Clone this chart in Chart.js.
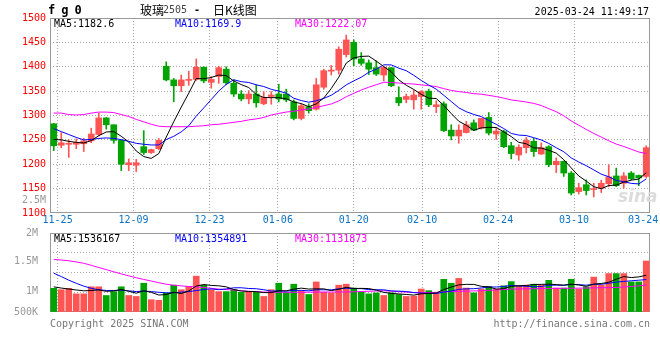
<!DOCTYPE html>
<html>
<head>
<meta charset="utf-8">
<script src="https://cdn.jsdelivr.net/npm/chart.js@4.4.1/dist/chart.umd.min.js"></script>
<style>
body { margin: 0; background: #fff; width: 660px; height: 360px; overflow: hidden; position: relative;
       font-family: 'DejaVu Sans Mono', monospace; font-size: 10px; }
canvas { position: absolute; left: 0; }
#pc { top: 0; }
#vc { top: 220px; }
.t { position: absolute; white-space: pre; line-height: 12px; }
</style>
</head>
<body>
<canvas id="pc" width="660" height="226"></canvas>
<canvas id="vc" width="660" height="110"></canvas>

<div class="t" style="left:48px;top:3px;font-weight:bold;font-size:12px;letter-spacing:-0.6px;line-height:14px">f g 0</div>
<div class="t" style="left:140px;top:3px;font-family:'Noto Sans CJK SC';font-size:12px;line-height:14px">玻璃</div>
<div class="t" style="left:163px;top:4px;color:#444">2505</div>
<div class="t" style="left:194px;top:4px;font-weight:bold">-</div>
<div class="t" style="left:213px;top:3px;font-family:'Noto Sans CJK SC';font-size:12px;line-height:14px">日K线图</div>
<div class="t" style="right:11px;top:6px">2025-03-24 11:49:17</div>

<div class="t" style="left:54px;top:18px;color:#000">MA5:1182.6</div>
<div class="t" style="left:175px;top:18px;color:#00f">MA10:1169.9</div>
<div class="t" style="left:295px;top:18px;color:#f0f">MA30:1222.07</div>

<div class="t" style="left:54px;top:233px;color:#000">MA5:1536167</div>
<div class="t" style="left:175px;top:233px;color:#00f">MA10:1354891</div>
<div class="t" style="left:295px;top:233px;color:#f0f">MA30:1131873</div>

<div class="t" style="left:618px;top:186px;font-family:'DejaVu Sans';font-style:italic;font-weight:bold;font-size:17px;line-height:20px;color:#dcdcdc">sina</div>

<div class="t" style="left:50px;top:318px;color:#777">Copyright 2025 SINA.COM</div>
<div class="t" style="right:10px;top:318px;color:#777">http://finance.sina.com.cn</div>

<script>
// 玻璃2505 daily candles, 11-25 .. 03-24
const OPEN = [1283,1239,1241,1241,1242,1248,1261,1295,1281,1249, 1199,1198,1236,1224,1232,1401,1373,1361,1372,1374,
              1399,1368,1380,1395,1366,1344,1334,1344,1324,1339, 1344,1344,1328,1294,1318,1313,1358,1391,1393,1425,
              1450,1416,1408,1398,1383,1398,1337,1333,1332,1339, 1350,1318,1324,1270,1258,1265,1285,1274,1296,1262,
              1267,1238,1219,1234,1247,1221,1236,1199,1206,1182, 1144,1158,1148,1151,1160,1176,1161,1182,1177,1175];
const CLOSE = [1238,1244,1243,1245,1248,1262,1295,1281,1249,1200, 1203,1203,1224,1230,1249,1373,1361,1373,1373,1399,
               1371,1374,1398,1367,1344,1334,1344,1326,1337,1342, 1334,1332,1294,1320,1310,1363,1392,1392,1436,1455,
               1416,1407,1395,1385,1399,1361,1326,1339,1342,1349, 1322,1322,1269,1258,1270,1281,1270,1294,1264,1268,
               1236,1222,1235,1249,1226,1234,1199,1206,1182,1141, 1152,1146,1149,1161,1174,1156,1176,1170,1172,1234];
const HIGH = [1284,1265,1250,1252,1253,1274,1305,1296,1281,1250, 1211,1210,1269,1231,1253,1410,1376,1383,1391,1416,
              1400,1380,1401,1400,1373,1351,1351,1363,1349,1349, 1364,1354,1332,1324,1324,1376,1395,1403,1441,1465,
              1455,1429,1414,1412,1400,1398,1359,1344,1352,1351, 1354,1330,1328,1281,1281,1288,1291,1294,1306,1275,
              1270,1245,1240,1255,1253,1244,1238,1213,1207,1185, 1161,1168,1161,1167,1199,1192,1183,1185,1178,1238];
const LOW = [1228,1234,1214,1232,1226,1244,1258,1272,1243,1187, 1187,1185,1220,1222,1230,1371,1328,1349,1362,1372,
             1367,1356,1366,1363,1339,1330,1324,1317,1322,1323, 1328,1328,1291,1291,1305,1311,1354,1383,1385,1420,
             1402,1403,1384,1382,1371,1359,1320,1326,1313,1313, 1318,1306,1267,1250,1243,1264,1269,1272,1260,1251,
             1234,1211,1208,1223,1216,1220,1195,1183,1175,1137, 1139,1137,1133,1142,1154,1154,1151,1168,1156,1172];

const MA5 = [1251,1250,1247,1245,1243.6,1248.4,1258.6,1266.2,1267,1257.4, 1245.6,1227.2,1215.8,1212,1221.8,1255.8,1287.4,1317.2,1345.8,1375.8,
             1375.4,1378,1383,1381.8,1370.8,1363.4,1357.4,1343,1337,1336.6, 1336.6,1334.2,1327.8,1324.4,1318,1323.8,1335.8,1355.4,1378.6,1407.6,
             1418.2,1421.2,1421.8,1411.6,1400.4,1389.4,1373.2,1362,1353.4,1343.4, 1335.6,1334.8,1320.8,1304,1288.2,1280,1269.6,1274.6,1275.8,1275.4,
             1266.4,1256.8,1245,1242,1233.6,1233.2,1228.6,1222.8,1209.4,1192.4, 1176,1165.4,1154,1149.8,1156.4,1157.2,1163.2,1167.4,1169.6,1182.6];
const MA10 = [1273,1267,1261,1255,1250,1251,1253,1254,1253,1250.5, 1247,1242.9,1241,1239.5,1239.6,1250.7,1257.3,1266.5,1278.9,1298.8,
              1315.6,1332.7,1350.1,1363.8,1373.3,1369.4,1367.7,1363,1359.4,1353.7, 1350,1345.8,1335.4,1330.7,1327.3,1330.2,1335,1341.6,1351.5,1362.8,
              1371,1378.5,1388.6,1395.1,1404,1403.8,1397.2,1391.9,1382.5,1371.9, 1362.5,1354,1341.4,1328.7,1315.8,1307.8,1302.2,1297.7,1289.9,1281.8,
              1273.2,1263.2,1259.8,1258.9,1254.5,1249.8,1242.7,1233.9,1225.7,1213, 1204.6,1197,1188.4,1179.6,1174.4,1166.6,1164.3,1160.7,1159.7,1169.9];
const MA30 = [1305,1305,1302,1301,1302,1305,1307,1307,1306,1302, 1298,1292,1287,1282,1278,1277,1277,1277,1277,1278,
              1279,1281,1282,1284,1286,1288,1291,1293,1296,1301, 1304.2,1307.1,1308.8,1311.3,1313.4,1316.8,1320,1323.7,1329.9,1338.4,
              1345.5,1352.3,1358,1363.2,1368.2,1367.8,1366.6,1365.5,1364.5,1362.8, 1361.2,1359.4,1355.1,1351.5,1349,1347.3,1344.8,1343.7,1341.3,1338.8,
              1335.6,1331.9,1329.9,1327.6,1324.8,1320.5,1314,1307.8,1299.4,1288.9, 1280.1,1271.4,1263.2,1255.7,1248.2,1241.4,1236.4,1230.8,1225.1,1222.07];

// volume, thousands of lots
const VOLUME = [988,931,988,758,758,1053,1053,689,851,1053, 689,649,1202,515,487,798,1121,931,1067,1498,
                1121,931,851,851,931,824,824,824,649,931, 1202,824,1162,866,731,1256,824,798,1121,1162,
                1000,851,758,798,689,798,731,649,663,960, 892,798,1364,1202,1404,1000,798,960,1067,960,
                1094,1270,1094,1121,1162,1121,1323,1000,1000,1364, 960,1053,1458,1121,1606,1606,1606,1256,1256,2131];
const VOL_MA5 = [1050,1000,960,920,884.6,897.6,922,862.2,880.8,939.8, 867,786.2,888.8,821.6,708.4,730.2,824.6,770.4,880.8,1083,
                 1147.6,1109.6,1093.6,1050.4,937,877.6,856.2,850.8,810.4,810.4, 886,886,953.6,997,957,967.8,967.8,895,946,1032.2,
                 981,986.4,978.4,913.8,819.2,778.8,754.8,733,706,760.2, 779,792.4,935.4,1043.2,1132,1153.6,1153.6,1072.8,1045.8,957,
                 975.8,1070.2,1097,1107.8,1148.2,1153.6,1164.2,1145.4,1121.2,1161.6, 1129.4,1075.4,1167,1191.2,1239.6,1368.8,1479.4,1439,1466,1536.2];
const VOL_MA10 = [1620,1480,1330,1200,1080,990,930,900,900,912.2, 882.3,854.1,875.5,851.2,824.1,798.6,805.4,829.6,851.2,895.7,
                  938.9,967.1,932,965.6,1010,1012.6,982.9,972.2,930.4,873.7, 881.8,871.1,902.2,903.7,883.7,926.9,926.9,924.3,971.5,994.6,
                  974.4,977.1,936.7,929.9,925.7,879.9,870.6,855.7,809.9,789.7, 778.9,773.6,834.2,874.6,946.1,966.3,973,1004.1,1044.5,1044.5,
                  1064.7,1111.9,1084.9,1076.8,1052.6,1064.7,1117.2,1121.2,1114.5,1154.9, 1141.5,1119.8,1156.2,1156.2,1200.6,1249.1,1277.4,1303,1328.6,1354.9];
const VOL_MA30 = [2198,2170,2141,2090,2036,1950,1858,1770,1680,1592, 1510,1430,1360,1293,1225,1159,1120,1090,1066,1045,
                  1026,990,957,937,917,890,865,850,835,824, 824,824,824,824,828,831,834,836,836,836,
                  845,855,865,877,889,870,850,830,815,810, 810,822,836,850,862,873,881,889,905,920,
                  938,957,963,968,974,979,984,987,990,993, 997,1002,1008,1013,1018,1024,1045,1066,1090,1131.9];

const TICK_DATES = ['11-25','12-09','12-23','01-06','01-20','02-10','02-24','03-10','03-24'];
const TICK_IDX = [1, 11, 21, 30, 40, 49, 59, 69, 79];
const PRICE_TICKS = [1100,1150,1200,1250,1300,1350,1400,1450,1500];
const STRAY_LABEL = { value: 1125, text: '2.5M' };   // volume label that shows inside the price panel
const VOL_TICKS = [500000, 1000000, 1500000, 2000000];

const N = OPEN.length;
const RED = '#ff5454', GREEN = '#00a400', GRID = '#a8a8a8', NONE = 'rgba(0,0,0,0)';
const isUp = i => CLOSE[i] >= OPEN[i];
const barColor = c => isUp(c.dataIndex) ? RED : GREEN;
const pts = arr => arr.map((v, i) => ({ x: i, y: v }));

Chart.defaults.font.family = "'DejaVu Sans Mono', monospace";
Chart.defaults.font.size = 10;
Chart.defaults.animation = false;

const frame = {
  id: 'frame',
  beforeDatasetsDraw(chart) {
    const a = chart.chartArea, g = chart.ctx;
    g.save();
    g.strokeStyle = '#999';
    g.lineWidth = 1;
    g.strokeRect(Math.round(a.left) + 0.5, Math.round(a.top) + 0.5,
                 Math.round(a.right - a.left) - 1, Math.round(a.bottom - a.top) - 1);
    g.restore();
  }
};

function dateAxis(showLabels) {
  return {
    type: 'linear', position: 'bottom', min: 0, max: N - 1, offset: false,
    afterBuildTicks: s => { s.ticks = TICK_IDX.map(v => ({ value: Math.min(v, s.max - 0.9) })); },
    afterFit: s => { s.height = showLabels ? 12 : 0; },
    grid: { color: c => c.index === TICK_IDX.length - 1 ? NONE : GRID, drawTicks: false },
    border: { display: false, dash: [1, 2] },
    ticks: { display: showLabels, padding: 1, color: '#0a72c4', autoSkip: false, maxRotation: 0,
             callback: (v, i) => TICK_DATES[i] }
  };
}

const line = (data, color, yAxisID) => ({
  type: 'line', data: pts(data), borderColor: color, borderWidth: 1, pointRadius: 0,
  tension: 0, xAxisID: 'x', yAxisID, order: 1
});

new Chart(document.getElementById('pc'), {
  data: {
    datasets: [
      line(MA5, '#000', 'y'),
      line(MA10, '#00f', 'y'),
      line(MA30, '#f0f', 'y'),
      { type: 'bar', data: OPEN.map((o, i) => ({ x: i, y: [o, CLOSE[i]] })), backgroundColor: barColor,
        barThickness: 6, minBarLength: 1, grouped: false, xAxisID: 'x', yAxisID: 'y', order: 2 },
      { type: 'bar', data: LOW.map((l, i) => ({ x: i, y: [l, HIGH[i]] })), backgroundColor: barColor,
        barThickness: 1, grouped: false, xAxisID: 'x', yAxisID: 'y', order: 3 }
    ]
  },
  options: {
    responsive: false,
    layout: { padding: { top: 18, right: 10, bottom: 1, left: 0 } },
    plugins: { legend: { display: false }, tooltip: { enabled: false } },
    scales: {
      x: { type: 'linear', display: false, offset: false, min: -0.5, max: N - 0.5 },
      xg: dateAxis(true),
      y: {
        type: 'linear', position: 'left', min: 1100, max: 1500,
        afterBuildTicks: s => { s.ticks = PRICE_TICKS.map(v => ({ value: v })).concat([{ value: STRAY_LABEL.value }]); },
        afterFit: s => { s.width = 50; },
        grid: { drawTicks: false,
                color: c => (c.tick && c.tick.value > 1100 && c.tick.value < 1500 && c.tick.value % 50 === 0) ? GRID : NONE },
        border: { display: false, dash: [1, 2] },
        ticks: { padding: 4, autoSkip: false,
                 color: c => c.tick && c.tick.value === STRAY_LABEL.value ? '#999' : '#f00',
                 callback: v => v === STRAY_LABEL.value ? STRAY_LABEL.text : String(v) }
      }
    }
  },
  plugins: [frame]
});

const VOL_MAX = 3300;
const fmtVol = v => v >= 1000000 ? (v / 1000000) + 'M' : (v / 1000) + 'K';

new Chart(document.getElementById('vc'), {
  data: {
    datasets: [
      line(VOL_MA5, '#000', 'yv'),
      line(VOL_MA10, '#00f', 'yv'),
      line(VOL_MA30, '#f0f', 'yv'),
      { type: 'bar', data: pts(VOLUME), backgroundColor: barColor, barThickness: 6, grouped: false,
        xAxisID: 'x', yAxisID: 'yv', order: 2 }
    ]
  },
  options: {
    responsive: false,
    layout: { padding: { top: 13, right: 10, bottom: 18, left: 0 } },
    plugins: { legend: { display: false }, tooltip: { enabled: false } },
    scales: {
      x: { type: 'linear', display: false, offset: false, min: -0.5, max: N - 0.5 },
      xg: dateAxis(false),
      yv: {
        type: 'linear', position: 'right', min: 0, max: VOL_MAX,
        ticks: { display: false, stepSize: VOL_MAX / 4 },
        afterFit: s => { s.width = 0; },
        grid: { drawTicks: false, color: c => (c.tick && c.tick.value > 0 && c.tick.value < VOL_MAX) ? GRID : NONE },
        border: { display: false, dash: [1, 2] }
      },
      yl: {
        // label scale of the reference: 0.5M per 30px, clamped at the panel edges
        type: 'linear', position: 'left', min: 650000, max: 1966667,
        afterBuildTicks: s => { s.ticks = VOL_TICKS.map(v => ({ value: Math.min(Math.max(v, s.min), s.max) })); },
        afterFit: s => { s.width = 50; },
        grid: { display: false },
        border: { display: false },
        ticks: { padding: 4, autoSkip: false, color: '#999', callback: (v, i) => fmtVol(VOL_TICKS[i]) }
      }
    }
  },
  plugins: [frame]
});
</script>
</body>
</html>
